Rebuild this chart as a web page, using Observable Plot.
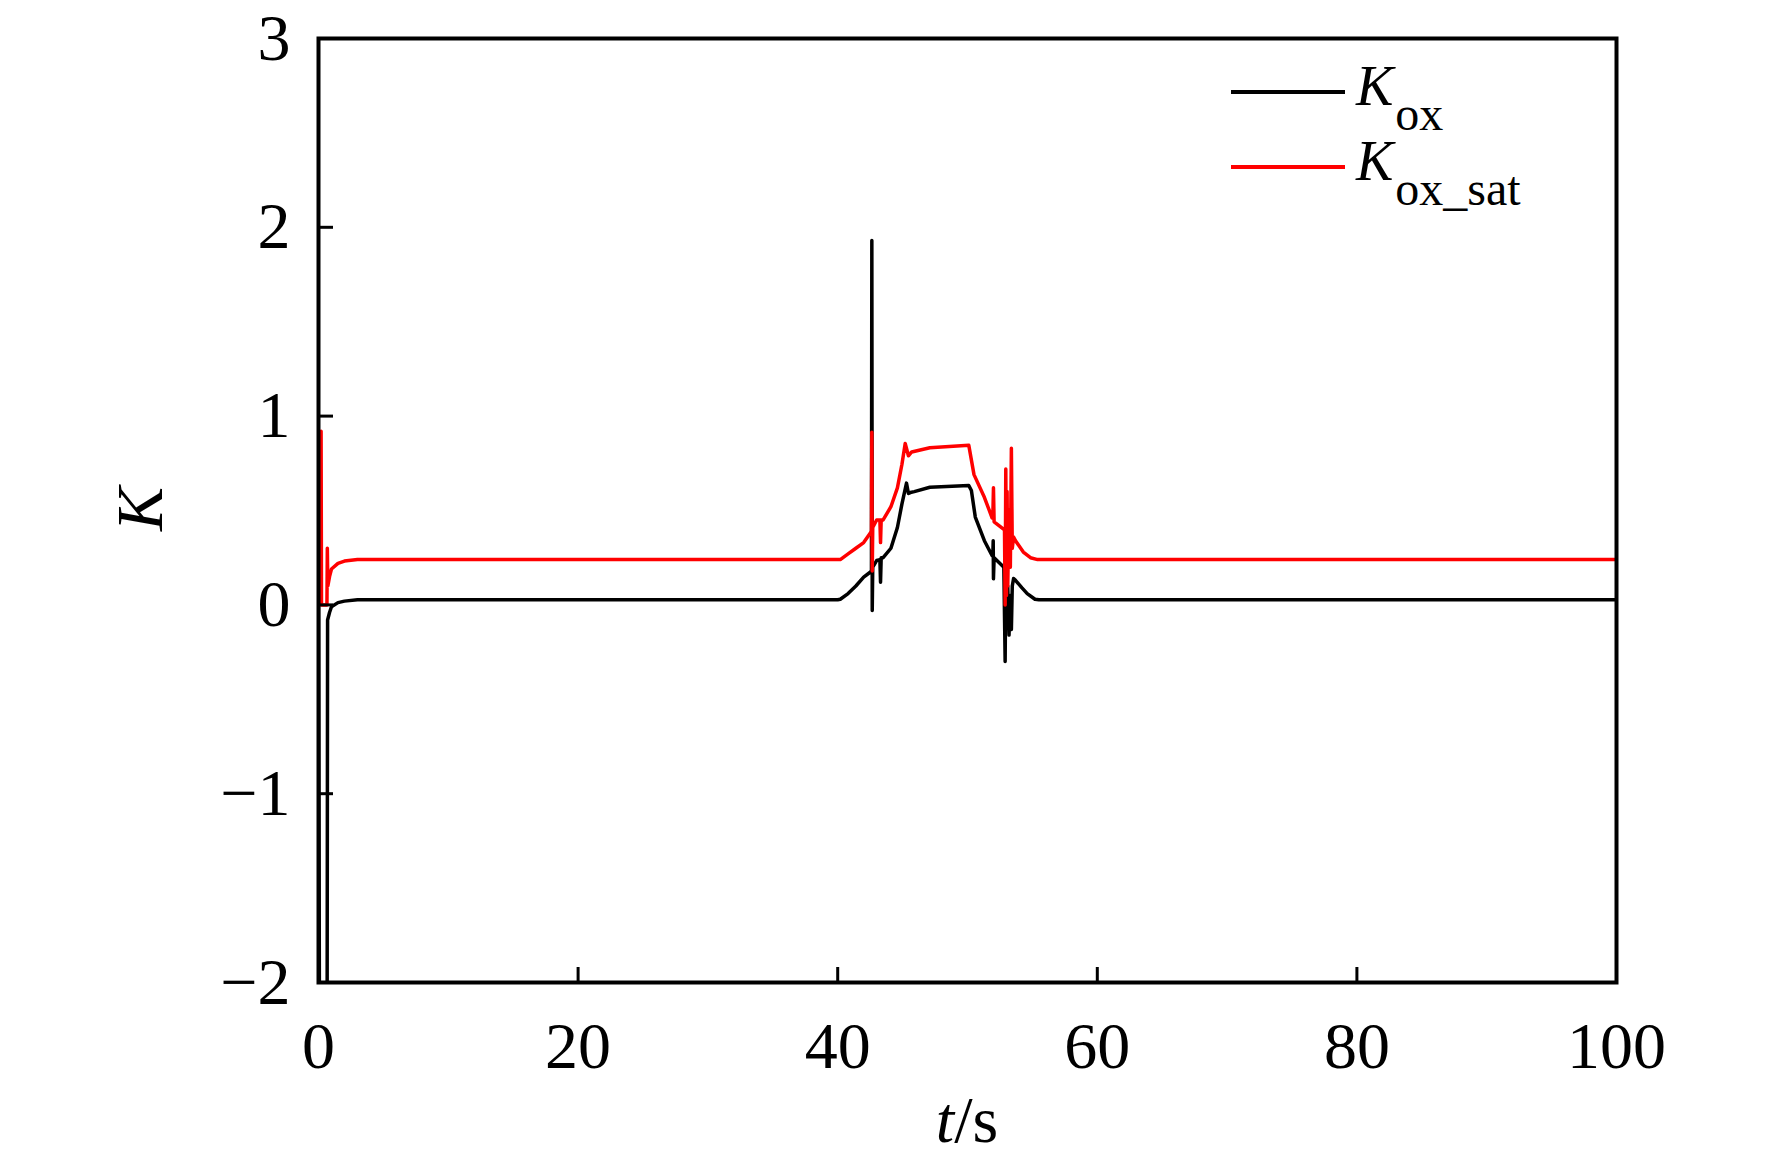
<!DOCTYPE html>
<html>
<head>
<meta charset="utf-8">
<script src="https://cdn.jsdelivr.net/npm/d3@7"></script>
<script src="https://cdn.jsdelivr.net/npm/@observablehq/plot@0.6"></script>
<style>
  html, body { margin: 0; padding: 0; background: #fff; }
  #chart svg { display: block; }
</style>
</head>
<body>
<div id="chart"></div>
<script>
// ---- Data ----
const xTicks = [0, 20, 40, 60, 80, 100];
const xInnerTicks = [20, 40, 60, 80];
const yTicks = [-2, -1, 0, 1, 2, 3];
const yInnerTicks = [-1, 0, 1, 2];

// K_ox (black)
const tOx = [0, 0.1, 0.65, 0.7, 0.85, 1.0, 1.5, 2.0, 3.0, 40.0, 40.2, 40.8, 41.4, 42.0, 42.5, 42.6, 42.63, 42.66, 42.7, 43.0, 43.25, 43.3, 43.35, 43.5, 44.1, 44.6, 44.95, 45.3, 45.45, 45.6, 45.9, 47.1, 50.1, 50.3, 50.6, 51.3, 51.9, 51.95, 51.98, 52.0, 52.05, 52.8, 52.9, 52.95, 53.05, 53.1, 53.2, 53.3, 53.38, 53.45, 53.55, 53.7, 54.2, 54.6, 55.2, 55.5, 100];
const kOx = [0.0, -3.0, -3.0, -0.08, -0.04, -0.01, 0.012, 0.02, 0.027, 0.027, 0.03, 0.06, 0.10, 0.147, 0.173, 0.18, 1.93, -0.03, 0.2, 0.235, 0.24, 0.12, 0.25, 0.25, 0.30, 0.41, 0.535, 0.645, 0.59, 0.595, 0.60, 0.623, 0.632, 0.606, 0.465, 0.34, 0.26, 0.26, 0.34, 0.138, 0.25, 0.20, -0.30, 0.15, -0.10, 0.10, -0.16, 0.05, -0.13, 0.10, 0.14, 0.13, 0.09, 0.06, 0.03, 0.027, 0.027];

// K_ox_sat (red)
const tSat = [0.2, 0.23, 0.65, 0.68, 0.72, 0.85, 1.0, 1.5, 2.0, 3.0, 40.0, 40.2, 40.8, 41.4, 42.0, 42.5, 42.6, 42.63, 42.66, 42.7, 43.0, 43.25, 43.3, 43.35, 43.5, 44.1, 44.6, 44.95, 45.2, 45.45, 45.7, 47.1, 50.1, 50.5, 51.3, 51.9, 51.95, 52.0, 52.05, 52.8, 52.85, 52.9, 52.95, 53.0, 53.05, 53.1, 53.2, 53.3, 53.38, 53.45, 53.55, 53.7, 54.3, 54.85, 55.4, 100];
const kOxSat = [0.92, 0.0, 0.0, 0.30, 0.10, 0.15, 0.19, 0.22, 0.232, 0.24, 0.24, 0.24, 0.27, 0.30, 0.33, 0.38, 0.39, 0.915, 0.18, 0.41, 0.45, 0.45, 0.33, 0.45, 0.45, 0.52, 0.62, 0.745, 0.855, 0.79, 0.81, 0.832, 0.845, 0.69, 0.57, 0.46, 0.46, 0.62, 0.44, 0.40, 0.40, 0.0, 0.72, 0.05, 0.60, 0.10, 0.50, 0.20, 0.83, 0.30, 0.36, 0.34, 0.28, 0.25, 0.24, 0.24];

const seriesNames = ["K", "ox", "ox_sat"];

const oxData = tOx.map((t, i) => ({t, k: kOx[i]}));
const satData = tSat.map((t, i) => ({t, k: kOxSat[i]}));

const fmt = d => d < 0 ? "\u2212" + Math.abs(d) : String(d);
const serif = "'Liberation Serif', 'Times New Roman', serif";

const plot = Plot.plot({
  width: 1772,
  height: 1157,
  marginLeft: 318,
  marginRight: 156,
  marginTop: 38,
  marginBottom: 175,
  style: {fontFamily: serif, background: "#fff", color: "#000"},
  x: {domain: [0, 100]},
  y: {domain: [-2, 3]},
  marks: [
    Plot.line(oxData, {x: "t", y: "k", stroke: "#000", strokeWidth: 3.5, clip: true}),
    Plot.line(satData, {x: "t", y: "k", stroke: "#ff0000", strokeWidth: 3.5, clip: true}),
    Plot.frame({stroke: "#000", strokeWidth: 4}),
    Plot.axisX(xTicks, {tickSize: 0, tickPadding: 39, label: null, fontSize: 66, tickFormat: fmt}),
    Plot.axisX(xInnerTicks, {tickSize: 15, dy: -15, tickFormat: () => "", label: null, strokeWidth: 3}),
    Plot.axisY(yTicks, {tickSize: 0, tickPadding: 28, label: null, fontSize: 66, tickFormat: fmt}),
    Plot.axisY(yInnerTicks, {tickSize: 15, dx: 15, tickFormat: () => "", label: null, strokeWidth: 3})
  ]
});

document.getElementById("chart").appendChild(plot);

// ---- Axis titles and legend (text) ----
const svg = d3.select(plot);
const xs = plot.scale("x");
const xMid = (xs.range[0] + xs.range[1]) / 2;

// y title: italic K rotated
svg.append("text")
  .attr("transform", "translate(162,509) rotate(-90)")
  .attr("text-anchor", "middle")
  .attr("font-family", serif)
  .attr("font-size", 66)
  .attr("font-style", "italic")
  .attr("fill", "#000")
  .text(seriesNames[0]);

// x title: t/s
const xt = svg.append("text")
  .attr("x", xMid)
  .attr("y", 1142)
  .attr("text-anchor", "middle")
  .attr("font-family", serif)
  .attr("font-size", 66)
  .attr("fill", "#000");
xt.append("tspan").attr("font-style", "italic").text("t");
xt.append("tspan").text("/s");

// legend
const legendItems = [
  {color: "#000", sub: seriesNames[1], y: 92},
  {color: "#ff0000", sub: seriesNames[2], y: 167}
];
legendItems.forEach(it => {
  svg.append("line")
    .attr("x1", 1231).attr("x2", 1345)
    .attr("y1", it.y).attr("y2", it.y)
    .attr("stroke", it.color).attr("stroke-width", 4);
  const tx = svg.append("text")
    .attr("x", 1356)
    .attr("y", it.y + 13)
    .attr("text-anchor", "start")
    .attr("font-family", serif)
    .attr("font-size", 56)
    .attr("fill", "#000");
  tx.append("tspan").attr("font-style", "italic").text(seriesNames[0]);
  tx.append("tspan").attr("font-size", 48).attr("dy", 25).attr("dx", 2).text(it.sub);
});
</script>
</body>
</html>
